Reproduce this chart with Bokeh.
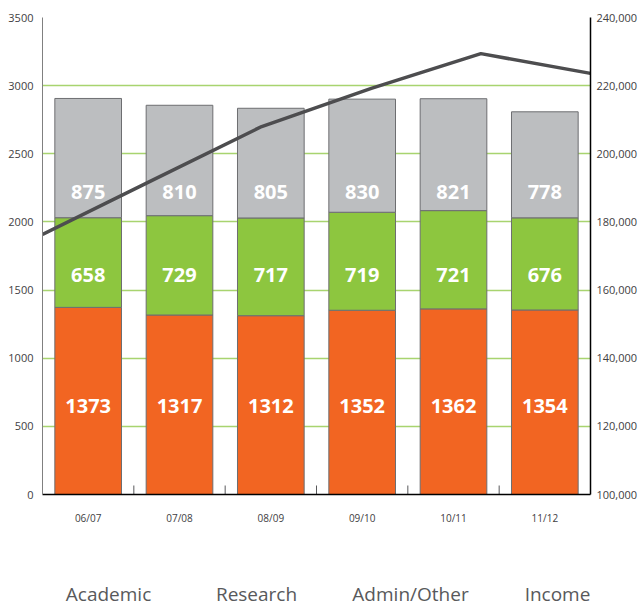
from bokeh.plotting import figure
from bokeh.layouts import column
from bokeh.models import (Range1d, LinearAxis, ColumnDataSource,
                          SingleIntervalTicker, NumeralTickFormatter, FixedTicker)
from bokeh.core.properties import value
from bokeh.embed import file_html
from bokeh.resources import INLINE

years = ["06/07", "07/08", "08/09", "09/10", "10/11", "11/12"]
academic = [1373, 1317, 1312, 1352, 1362, 1354]
research = [658, 729, 717, 719, 721, 676]
admin = [875, 810, 805, 830, 821, 778]
income = [176300, 192200, 208000, 219200, 229400, 223600]
legend_labels = ["Academic", "Research", "Admin/Other", "Income"]

FONT = "Open Sans"
colors = ["#f26522", "#8dc63f", "#bcbec0"]

n = len(years)
centers = [i + 0.5 for i in range(n)]
src = ColumnDataSource(dict(x=centers, academic=academic, research=research, admin=admin))

p = figure(x_range=Range1d(0, n), y_range=Range1d(0, 3500),
           width=642, height=540, output_backend="svg", toolbar_location=None,
           min_border_left=42, min_border_right=52, min_border_top=17, min_border_bottom=46)
p.outline_line_color = None
p.background_fill_color = "white"
p.border_fill_color = "white"

p.extra_y_ranges = {"income": Range1d(100000, 240000)}

p.vbar_stack(["academic", "research", "admin"], x="x", width=0.73, color=colors,
             line_color="#6d6e71", line_width=1, source=src)

# value labels at fixed heights per series
for vals, lvl in ((academic, 653), (research, 1607), (admin, 2223)):
    p.text(x=centers, y=[lvl] * n, text=[str(v) for v in vals],
           text_color="white", text_font=value(FONT), text_font_style="bold",
           text_font_size="20px", text_align="center", text_baseline="middle")

# small boundary ticks at the base
edges = list(range(1, n))
p.segment(x0=edges, y0=[0] * len(edges), x1=edges, y1=[66] * len(edges),
          line_color="#58595b", line_width=1)

# income line, spanning the plot edge to edge
line_x = [i * n / (len(income) - 1) for i in range(len(income))]
p.line(x=line_x, y=income, y_range_name="income",
       line_color="#4d4d4f", line_width=3.5)

# grid
p.xgrid.grid_line_color = None
p.ygrid.ticker = SingleIntervalTicker(interval=500)
p.ygrid.grid_line_color = "#a8d46f"
p.ygrid.grid_line_width = 1.5

def style_axis(ax, size="11px"):
    ax.major_tick_line_color = None
    ax.minor_tick_line_color = None
    ax.major_tick_out = 0
    ax.major_tick_in = 0
    ax.minor_tick_out = 0
    ax.minor_tick_in = 0
    ax.major_label_text_font = FONT
    ax.major_label_text_font_size = size
    ax.major_label_text_color = "#414042"

# left axis
p.yaxis.ticker = SingleIntervalTicker(interval=500)
ya = p.yaxis[0]
style_axis(ya)
ya.axis_line_color = "#808080"
ya.major_label_standoff = 9

# right axis
ra = LinearAxis(y_range_name="income", ticker=SingleIntervalTicker(interval=20000),
                formatter=NumeralTickFormatter(format="0,0"))
style_axis(ra)
ra.axis_line_color = "black"
ra.axis_line_width = 1.5
ra.major_label_standoff = 6
p.add_layout(ra, "right")

# bottom axis with year labels at bar centres
xa = p.xaxis[0]
style_axis(xa, "10px")
xa.ticker = FixedTicker(ticks=centers)
xa.major_label_overrides = {c: y for c, y in zip(centers, years)}
xa.axis_line_color = "black"
xa.axis_line_width = 1.5
xa.major_label_standoff = 16

# text-only legend strip underneath (frame aligned with the chart frame, 42..590 px)
leg = figure(x_range=Range1d(42, 590), y_range=Range1d(0, 66),
             width=642, height=66, output_backend="svg", toolbar_location=None,
             min_border_left=42, min_border_right=52, min_border_top=0, min_border_bottom=0)
leg.axis.visible = False
leg.grid.visible = False
leg.outline_line_color = None
leg.border_fill_color = "white"
legend_px = [108, 256, 410, 557]
leg.text(x=legend_px, y=[13] * len(legend_px), text=legend_labels,
         text_font=value(FONT), text_font_size="19px", text_color="#58595b",
         text_align="center", text_baseline="middle")

layout = column(p, leg, spacing=0)
open("out.html", "w").write(file_html(layout, INLINE))
